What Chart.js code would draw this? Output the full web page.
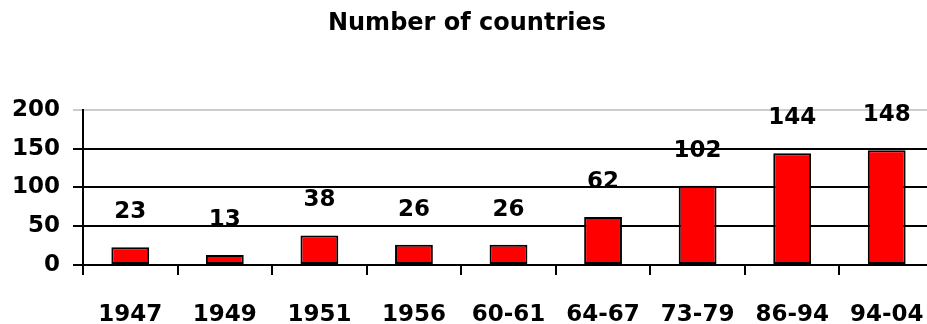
<!DOCTYPE html>
<html>
<head>
<meta charset="utf-8">
<script src="https://cdn.jsdelivr.net/npm/chart.js@4"></script>
<style>
  html, body { margin: 0; padding: 0; background: #fff; overflow: hidden; }
  #wrap { width: 927px; height: 324px; overflow: hidden; }
</style>
</head>
<body>
<div id="wrap"><canvas id="countriesChart" width="934" height="324"></canvas></div>
<script>
// data
const periods = ['1947', '1949', '1951', '1956', '60-61', '64-67', '73-79', '86-94', '94-04'];
const countries = [23, 13, 38, 26, 26, 62, 102, 144, 148];
const yTicks = [0, 50, 100, 150, 200];

const boldFont = 'DejaVu Sans';

// draws the value above each bar
const valueLabels = {
    id: 'valueLabels',
    afterDatasetsDraw(chart) {
        const ctx = chart.ctx;
        const meta = chart.getDatasetMeta(0);
        ctx.save();
        ctx.font = 'bold 23px "' + boldFont + '"';
        ctx.fillStyle = '#000';
        ctx.textAlign = 'center';
        ctx.textBaseline = 'middle';
        meta.data.forEach((bar, i) => {
            ctx.fillText(String(countries[i]), bar.x, bar.y - 35);
        });
        ctx.restore();
    }
};

const ctx = document.getElementById('countriesChart').getContext('2d');
const countriesChart = new Chart(ctx, {
    type: 'bar',
    data: {
        labels: periods,
        datasets: [{
            label: 'Number of countries',
            data: countries,
            backgroundColor: '#ff0000',
            borderColor: '#000000',
            borderWidth: 2,
            borderSkipped: false,
            categoryPercentage: 1,
            barPercentage: 0.4
        }]
    },
    options: {
        responsive: false,
        animation: false,
        layout: { padding: 0 },
        plugins: {
            legend: { display: false },
            tooltip: { enabled: false },
            title: {
                display: true,
                text: 'Number of countries',
                color: '#000',
                font: { family: boldFont, size: 24, weight: 'bold', lineHeight: 1.2 },
                padding: { top: 9, bottom: 72 }
            }
        },
        scales: {
            x: {
                offset: true,
                grid: {
                    drawOnChartArea: false,
                    drawTicks: true,
                    tickLength: 10,
                    color: '#000',
                    lineWidth: 2
                },
                border: { display: true, color: '#000', width: 2 },
                ticks: {
                    color: '#000',
                    font: { family: boldFont, size: 23, weight: 'bold' },
                    padding: 26,
                    maxRotation: 0,
                    autoSkip: false
                },
                afterFit(scale) {
                    scale.height = 59;
                    scale.paddingLeft = 0;
                    scale.paddingRight = 0;
                }
            },
            y: {
                min: 0,
                max: 200,
                afterBuildTicks(scale) { scale.ticks = yTicks.map(v => ({ value: v })); },
                grid: {
                    color: c => (c.tick && c.tick.value === 200 ? '#cccccc' : '#000000'),
                    lineWidth: 2,
                    tickLength: 10
                },
                border: { display: true, color: '#000', width: 2 },
                ticks: {
                    color: '#000',
                    font: { family: boldFont, size: 23, weight: 'bold' },
                    padding: 13
                },
                afterFit(scale) { scale.width = 83; }
            }
        }
    },
    plugins: [valueLabels]
});
</script>
</body>
</html>
